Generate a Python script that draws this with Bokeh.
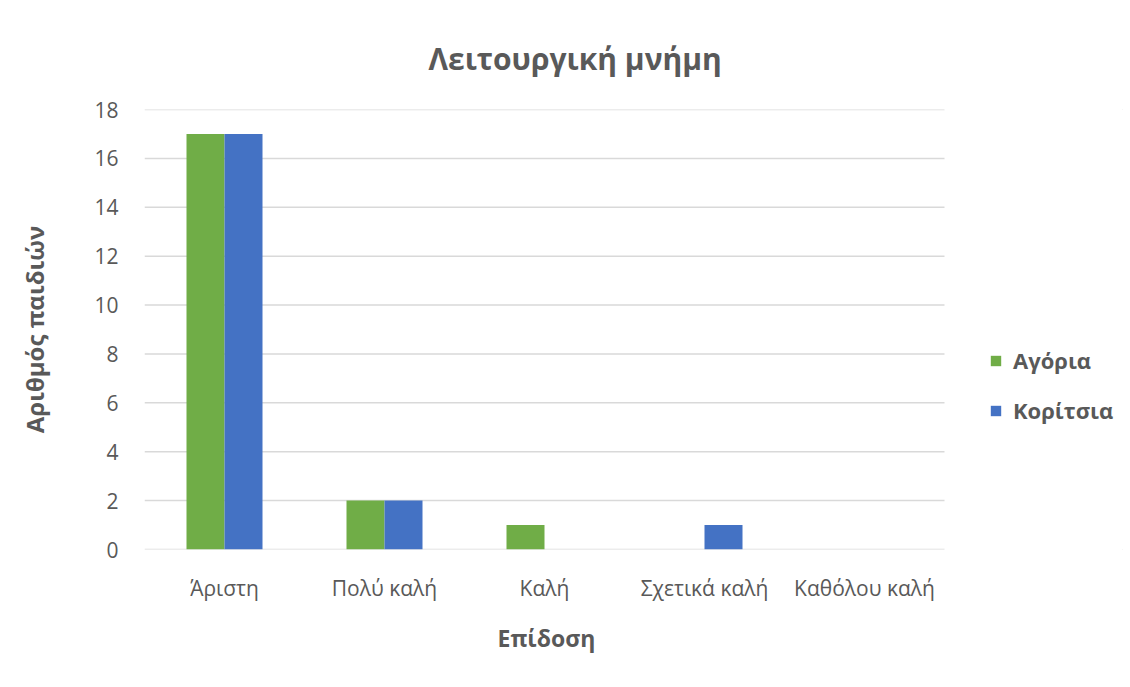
from bokeh.plotting import figure
from bokeh.models import ColumnDataSource, Range1d, Legend, LegendItem, FixedTicker, Title
from bokeh.embed import file_html
from bokeh.resources import INLINE

categories = ["Άριστη", "Πολύ καλή", "Καλή", "Σχετικά καλή", "Καθόλου καλή"]
boys = [17, 2, 1, 0, 0]
girls = [17, 2, 0, 1, 0]
series_names = ["Αγόρια", "Κορίτσια"]
y_ticks = [0, 2, 4, 6, 8, 10, 12, 14, 16, 18]

title_text = "Λειτουργική μνήμη"
x_label = "Επίδοση"
y_label = "Αριθμός παιδιών"

GREEN = "#70AD47"
BLUE = "#4472C4"
TXT = "#595959"
GRID = "#D9D9D9"
FONT = "Open Sans"

pos = list(range(1, len(categories) + 1))
bw = 0.2375
src = ColumnDataSource(dict(pos=pos, cat=categories, boys=boys, girls=girls,
                            xb=[x - bw / 2 for x in pos], xg=[x + bw / 2 for x in pos]))

p = figure(x_range=Range1d(0.5, 0.5 + 984 / 160), y_range=Range1d(0, 18),
           width=1126, height=683, output_backend="svg", toolbar_location=None,
           min_border_left=142, min_border_right=0, min_border_top=106, min_border_bottom=137)
p.margin = (3, 2, 1, 2)
p.styles = {"outline": "1px solid #D9D9D9", "outline-offset": "-6px"}
p.outline_line_color = None

# horizontal gridlines limited to the category area
gsrc = ColumnDataSource(dict(y=y_ticks, x0=[0.5] * len(y_ticks), x1=[len(categories) + 0.5] * len(y_ticks)))
p.segment(x0="x0", x1="x1", y0="y", y1="y", source=gsrc, line_color=GRID, line_width=1.5)

r1 = p.vbar(x="xb", top="boys", width=bw, source=src, fill_color=GREEN, line_color=None)
r2 = p.vbar(x="xg", top="girls", width=bw, source=src, fill_color=BLUE, line_color=None)

p.title.text = title_text
p.title.align = "left"
p.title.offset = 284
p.title.text_font = FONT
p.title.text_font_size = "30px"
p.title.text_font_style = "bold"
p.title.text_color = TXT
p.title.standoff = 62

p.xgrid.grid_line_color = None
p.ygrid.grid_line_color = None
p.yaxis.ticker = FixedTicker(ticks=y_ticks)
p.xaxis.ticker = FixedTicker(ticks=pos)
p.xaxis.major_label_overrides = {x: c for x, c in zip(pos, categories)}

for ax in (p.xaxis[0], p.yaxis[0]):
    ax.axis_line_color = None
    ax.major_tick_line_color = None
    ax.minor_tick_line_color = None
    ax.major_label_text_font = FONT
    ax.major_label_text_font_size = "21px"
    ax.major_label_text_color = TXT
    ax.axis_label_text_font = FONT
    ax.axis_label_text_font_style = "bold"
    ax.axis_label_text_color = TXT

p.yaxis.axis_label_text_font_size = "24px"
p.yaxis.axis_label = y_label
p.yaxis.major_label_standoff = 20
p.xaxis.major_label_standoff = 18
p.yaxis.axis_label_standoff = 40

xt = Title(text=x_label, align="left", offset=353, text_font=FONT, text_font_size="23px",
           text_font_style="bold", text_color=TXT, standoff=31)
p.add_layout(xt, "below")

legend = Legend(items=[LegendItem(label=series_names[0], renderers=[r1]),
                       LegendItem(label=series_names[1], renderers=[r2])],
                location=(845, 124))
legend.label_text_font = FONT
legend.label_text_font_size = "22px"
legend.label_text_font_style = "bold"
legend.label_text_color = TXT
legend.glyph_width = 13
legend.glyph_height = 13
legend.label_standoff = 11
legend.label_height = 25
legend.spacing = 20
legend.padding = 0
legend.margin = 0
legend.border_line_color = None
legend.background_fill_alpha = 0
p.add_layout(legend)

open("out.html", "w").write(file_html(p, INLINE))
